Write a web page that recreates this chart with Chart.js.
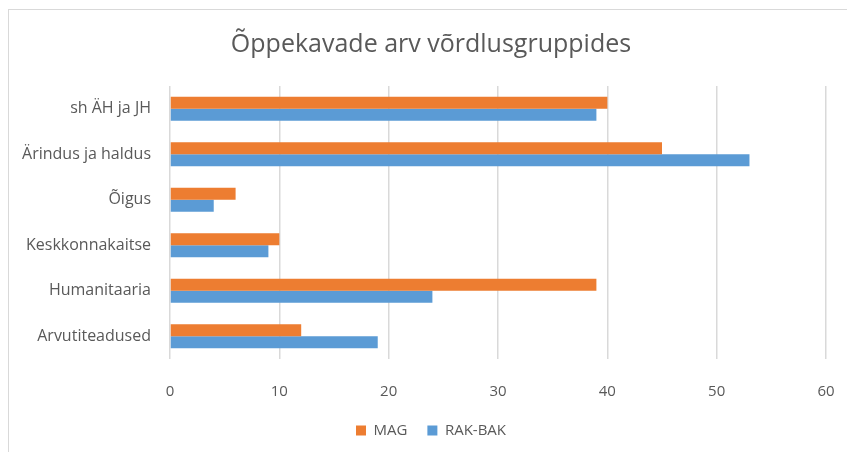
<!DOCTYPE html>
<html>
<head>
<meta charset="utf-8">
<script src="https://cdn.jsdelivr.net/npm/chart.js@4/dist/chart.umd.min.js"></script>
<style>
  html, body { margin: 0; padding: 0; background: #fff; }
  #wrap { position: relative; width: 847px; height: 452px; }
  #frame { position: absolute; left: 8px; top: 9px; width: 860px; height: 460px;
           border-top: 1px solid #d9d9d9; border-left: 1px solid #d9d9d9; }
  canvas { position: absolute; left: 0; top: 0; }
</style>
</head>
<body>
<div id="wrap">
  <div id="frame"></div>
  <canvas id="chart" width="847" height="452"></canvas>
</div>
<script>
// Categories top to bottom, as in the picture
const categories = ['sh ÄH ja JH', 'Ärindus ja haldus', 'Õigus', 'Keskkonnakaitse', 'Humanitaaria', 'Arvutiteadused'];
const magValues = [40, 45, 6, 10, 39, 12];
const rakBakValues = [39, 53, 4, 9, 24, 19];
const xTicks = [0, 10, 20, 30, 40, 50, 60];

const FONT = "'Open Sans', 'Liberation Sans', sans-serif";
const TEXT_COLOR = '#595959';

new Chart(document.getElementById('chart'), {
    type: 'bar',
    data: {
        labels: categories,
        datasets: [
            { label: 'MAG', data: magValues, backgroundColor: '#ed7d31' },
            { label: 'RAK-BAK', data: rakBakValues, backgroundColor: '#5b9bd5' }
        ]
    },
    options: {
        indexAxis: 'y',
        responsive: false,
        animation: false,
        devicePixelRatio: 1,
        layout: { padding: { left: 15, right: 0, top: 22, bottom: 4 } },
        datasets: { bar: { barPercentage: 1, categoryPercentage: 0.53 } },
        scales: {
            x: {
                min: 0,
                max: 60,
                afterBuildTicks: axis => { axis.ticks = xTicks.map(v => ({ value: v })); },
                afterFit: axis => {
                    // pin the right edge of the plot and tuck the legend closer to the ticks
                    axis.paddingRight = 21;
                    axis.height -= 22;
                },
                grid: { color: '#d9d9d9', lineWidth: 1.5, drawTicks: false },
                border: { display: false },
                ticks: { color: TEXT_COLOR, font: { family: FONT, size: 15 }, padding: 24 }
            },
            y: {
                grid: { display: false },
                border: { display: false },
                afterFit: axis => { axis.width = 155; },
                ticks: { color: TEXT_COLOR, font: { family: FONT, size: 16 }, padding: 11 }
            }
        },
        plugins: {
            title: {
                display: true,
                text: 'Õppekavade arv võrdlusgruppides',
                color: TEXT_COLOR,
                font: { family: FONT, size: 25, weight: 'normal' },
                padding: { top: 8, bottom: 26 }
            },
            legend: {
                position: 'bottom',
                labels: {
                    color: TEXT_COLOR,
                    font: { family: FONT, size: 15 },
                    boxWidth: 10,
                    boxHeight: 10,
                    padding: 20
                }
            },
            tooltip: { enabled: false }
        }
    }
});
</script>
</body>
</html>
